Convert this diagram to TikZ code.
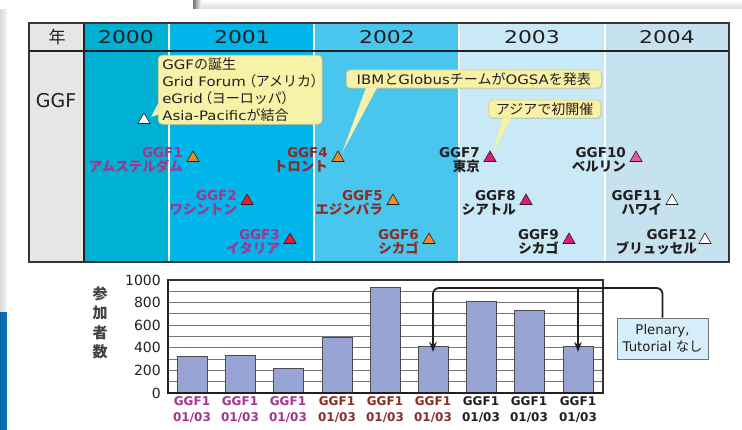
\documentclass[tikz,border=0pt]{standalone}
\usepackage{fontspec}
\setmainfont{Noto Sans CJK JP}
\newfontfamily\jpf{Noto Sans CJK JP}
\newfontfamily\jpp{Noto Sans CJK JP}[RawFeature=+palt]
\newfontfamily\latc{DejaVu Sans}[FakeStretch=1.15]
\newfontfamily\latn{DejaVu Sans}
\newfontfamily\latwide{DejaVu Sans}[FakeStretch=1.25]
\newcommand\jp[1]{{\jpf #1}}
\newcommand\cj[1]{{\jpf\fontsize{14}{17}\selectfont #1}}
\newcommand\cjp[1]{{\jpp\fontsize{14}{17}\selectfont #1}}
\usetikzlibrary{arrows.meta,shadows,shapes.geometric,calc}

\definecolor{cA}{HTML}{00B0D3}
\definecolor{cB}{HTML}{00B5EA}
\definecolor{cC}{HTML}{48C6EE}
\definecolor{cD}{HTML}{C8E9F5}
\definecolor{cE}{HTML}{C6E2EF}
\definecolor{leftcol}{HTML}{E6E6E8}
\definecolor{callfill}{HTML}{F8F1A8}
\definecolor{calledge}{HTML}{DCCF86}
\definecolor{purp}{HTML}{A2358F}
\definecolor{dred}{HTML}{8E2B23}
\definecolor{ink}{HTML}{231F20}
\definecolor{torange}{HTML}{F08A24}
\definecolor{tred}{HTML}{E6202A}
\definecolor{tmag}{HTML}{DE1A80}
\definecolor{tpink}{HTML}{E8589C}
\definecolor{barfill}{HTML}{98A4D4}
\definecolor{plenfill}{HTML}{D6EEFA}
\definecolor{sideblue}{HTML}{0B78C0}

\begin{document}
\begin{tikzpicture}[x=1pt,y=-1pt,
  yearlab/.style={font=\latwide\fontsize{17.5}{17.5}\selectfont, text=ink},
  callbox/.style={fill=callfill, draw=calledge, line width=0.6pt, rounded corners=4pt,
    drop shadow={shadow xshift=1pt, shadow yshift=-1pt, opacity=0.25},
    font=\latc\fontsize{13}{17}\selectfont, text=ink, inner xsep=4pt, inner ysep=2.5pt},
  tri/.style={regular polygon, regular polygon sides=3, minimum size=14pt, inner sep=0pt,
    draw=ink, line width=0.6pt},
  evlab/.style={font=\latn\bfseries\fontsize{13.5}{14.5}\selectfont, align=right, anchor=east, inner sep=0pt},
  bar/.style={draw=black!70, fill=barfill, line width=0.8pt, minimum width=30pt, inner sep=0pt, anchor=south},
  xlab/.style={font=\latn\bfseries\fontsize{12}{16}\selectfont, align=center, anchor=north, inner sep=0pt},
  ytick/.style={font=\latn\fontsize{14}{14}\selectfont, text=ink, anchor=east, inner sep=0pt},
  gridline/.style={draw=black!55, line width=0.9pt},
  conn/.style={draw=ink, line width=1.8pt, rounded corners=6pt}
]
\useasboundingbox (0,0) rectangle (742,430);

% page and the sheet behind it
\fill[white] (0,0) rectangle (742,430);
\shade[top color=white, bottom color=black!14] (193,0) rectangle (742,9);
\shade[left color=black!55, right color=black!4] (193,0) rectangle (201,9);
\shade[left color=black!14, right color=black!4] (0,10) rectangle (7,313);
\shade[left color=sideblue!85!black, right color=sideblue] (0,313) rectangle (7,430);
\fill[white] (7,10) rectangle (742,430);

% timeline table: columns
\fill[leftcol] (29,23) rectangle (84,262);
\fill[cA] (84,23) rectangle (169,262);
\fill[cB] (169,23) rectangle (314,262);
\fill[cC] (314,23) rectangle (459,262);
\fill[cD] (459,23) rectangle (605,262);
\fill[cE] (605,23) rectangle (729,262);
\foreach \x in {169,314,459,605}
  \draw[white, line width=2.6pt] (\x,24) -- (\x,261);
\draw[ink, line width=1.3pt] (29,51) -- (729,51);
\draw[ink, line width=1.5pt] (84,23) -- (84,262);
\draw[ink!90, line width=2pt] (29,23) rectangle (729,262);

% header labels
\node[font=\jpf\fontsize{17}{17}\selectfont, text=ink] (hy) at (57,37.5) {年};
\node[yearlab] (y0) at (126,37.5) {2000};
\node[yearlab] (y1) at (242,37.5) {2001};
\node[yearlab] (y2) at (387,37.5) {2002};
\node[yearlab] (y3) at (532,37.5) {2003};
\node[yearlab] (y4) at (667,37.5) {2004};
\node[font=\latn\fontsize{19}{19}\selectfont, text=ink] (rowlab) at (56,101) {GGF};

% meeting markers
\node[tri, fill=white]   (g0)  at (144,120) {};
\node[tri, fill=torange] (g1)  at (193,158) {};
\node[tri, fill=tred]    (g2)  at (247,201) {};
\node[tri, fill=tred]    (g3)  at (290,240) {};
\node[tri, fill=torange] (g4)  at (338,158) {};
\node[tri, fill=torange] (g5)  at (393,201) {};
\node[tri, fill=torange] (g6)  at (429,240) {};
\node[tri, fill=tmag]    (g7)  at (490,158) {};
\node[tri, fill=tmag]    (g8)  at (526,201) {};
\node[tri, fill=tmag]    (g9)  at (569,240) {};
\node[tri, fill=tpink]   (g10) at (636,158) {};
\node[tri, fill=white]   (g11) at (672,201) {};
\node[tri, fill=white]   (g12) at (705,240) {};

% meeting labels
\node[evlab, text=purp] (l1)  at ($(g1)+(-10,2)$)  {GGF1\\\jp{アムステルダム}};
\node[evlab, text=purp] (l2)  at ($(g2)+(-10,2)$)  {GGF2\\\jp{ワシントン}};
\node[evlab, text=purp] (l3)  at ($(g3)+(-10,2)$)  {GGF3\\\jp{イタリア}};
\node[evlab, text=dred] (l4)  at ($(g4)+(-10,2)$)  {GGF4\\\jp{トロント}};
\node[evlab, text=dred] (l5)  at ($(g5)+(-10,2)$)  {GGF5\\\jp{エジンバラ}};
\node[evlab, text=dred] (l6)  at ($(g6)+(-10,2)$)  {GGF6\\\jp{シカゴ}};
\node[evlab, text=ink]  (l7)  at ($(g7)+(-10,2)$)  {GGF7\\\jp{東京}};
\node[evlab, text=ink]  (l8)  at ($(g8)+(-10,2)$)  {GGF8\\\jp{シアトル}};
\node[evlab, text=ink]  (l9)  at ($(g9)+(-10,2)$)  {GGF9\\\jp{シカゴ}};
\node[evlab, text=ink]  (l10) at ($(g10)+(-10,2)$) {GGF10\\\jp{ベルリン}};
\node[evlab, text=ink]  (l11) at ($(g11)+(-10,2)$) {GGF11\\\jp{ハワイ}};
\node[evlab, text=ink]  (l12) at ($(g12)+(-8,2)$)  {GGF12\\\jp{ブリュッセル}};

% callouts
\node[callbox, align=left, anchor=north west] (c1) at (158,55)
  {GGF\cj{の誕生}\\
   Grid Forum\hspace{3pt}\cjp{（}\cj{アメリカ}\cjp{）}\\
   eGrid\hspace{2pt}\cjp{（}\cj{ヨーロッパ}\cjp{）}\\
   Asia-Pacific\cj{が結合}};
\node[callbox, anchor=west, minimum width=255pt] (c2) at (346,79) {IBM\cj{と}Globus\cj{チームが}OGSA\cj{を発表}};
\node[callbox, anchor=east, minimum width=112pt] (c3) at (601,109) {\cj{アジアで初開催}};

\fill[callfill] ($(c1.south west)+(0.6,-22)$) -- ($(g0)+(7,-3)$) -- ($(c1.south west)+(0.6,-10)$) -- cycle;
\fill[callfill] ($(c2.south west)+(20,-0.6)$) -- ($(g4)+(4,-5)$) -- ($(c2.south west)+(31,-0.6)$) -- cycle;
\fill[callfill] ($(c3.south west)+(14,-0.6)$) -- ($(g7)+(3,-5)$) -- ($(c3.south west)+(23,-0.6)$) -- cycle;

% attendance chart: grid
\foreach \v in {0,100,...,1000}
  \draw[gridline] (168,{393-0.113*\v}) -- (603,{393-0.113*\v});
\foreach \v in {0,200,...,1000}
  \node[ytick] at (161,{393-0.113*\v}) {\v};

% bars
\node[bar, minimum height={0.113*320}] (b1) at (192,393) {};
\node[bar, minimum height={0.113*330}] (b2) at (240,393) {};
\node[bar, minimum height={0.113*210}] (b3) at (288,393) {};
\node[bar, minimum height={0.113*490}] (b4) at (337,393) {};
\node[bar, minimum height={0.113*930}] (b5) at (385,393) {};
\node[bar, minimum height={0.113*410}] (b6) at (433,393) {};
\node[bar, minimum height={0.113*810}] (b7) at (481,393) {};
\node[bar, minimum height={0.113*730}] (b8) at (529,393) {};
\node[bar, minimum height={0.113*410}] (b9) at (578,393) {};

% plot frame
\draw[black!80, line width=1.5pt] (168,280) rectangle (603,393);
\draw[ink, line width=2pt] (168,280) -- (168,393) -- (603,393);

% bar labels
\node[xlab, text=purp] (x1) at (192,396) {GGF1\\01/03};
\node[xlab, text=purp] (x2) at (240,396) {GGF1\\01/03};
\node[xlab, text=purp] (x3) at (288,396) {GGF1\\01/03};
\node[xlab, text=dred] (x4) at (337,396) {GGF1\\01/03};
\node[xlab, text=dred] (x5) at (385,396) {GGF1\\01/03};
\node[xlab, text=dred] (x6) at (433,396) {GGF1\\01/03};
\node[xlab, text=ink]  (x7) at (481,396) {GGF1\\01/03};
\node[xlab, text=ink]  (x8) at (529,396) {GGF1\\01/03};
\node[xlab, text=ink]  (x9) at (578,396) {GGF1\\01/03};

% axis title, stacked vertically
\node[font=\bfseries\fontsize{15}{19.5}\selectfont, text=ink!85, align=center] (ytitle) at (100,323) {参\\加\\者\\数};

% note box and its arrows
\node[draw=black!55, fill=plenfill, line width=0.8pt, minimum width=91pt, minimum height=41pt,
  align=center, inner sep=1pt, font=\latn\fontsize{13.3}{16.5}\selectfont, text=ink] (plen) at (662.5,338.5)
  {Plenary,\\Tutorial \jp{なし}};
\coordinate (rail) at (0,288);
\draw[conn, -{Stealth[length=10pt,width=7.5pt]}] (plen.north) |- (b6.north |- rail) -- ([yshift=-6pt]b6.north);
\draw[conn, -{Stealth[length=10pt,width=7.5pt]}] (b9.north |- rail) -- ([yshift=-6pt]b9.north);
\end{tikzpicture}
\end{document}
